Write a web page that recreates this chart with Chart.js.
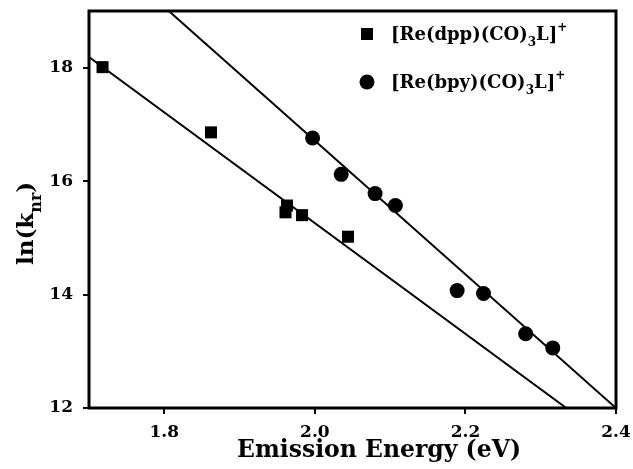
<!DOCTYPE html>
<html>
<head>
<meta charset="utf-8">
<script src="https://cdn.jsdelivr.net/npm/chart.js@4.4.1/dist/chart.umd.min.js"></script>
<style>
  body { margin: 0; background: #fff; }
  #wrap { width: 633px; height: 469px; position: relative; }
</style>
</head>
<body>
<div id="wrap"><canvas id="myChart"></canvas></div>
<script>
// data
const dppEnergy = [1.718, 1.862, 1.963, 1.961, 1.983, 2.044];
const dppLnK = [18.01, 16.86, 15.57, 15.45, 15.40, 15.02];
const bpyEnergy = [1.997, 2.035, 2.080, 2.107, 2.189, 2.224, 2.280, 2.316];
const bpyLnK = [16.76, 16.12, 15.78, 15.57, 14.07, 14.02, 13.31, 13.06];
// fitted lines (end points)
const dppFitEnergy = [1.70, 2.334];
const dppFitLnK = [18.19, 12.0];
const bpyFitEnergy = [1.806, 2.40];
const bpyFitLnK = [19.0, 12.0];
// axes
const xTicks = [1.8, 2.0, 2.2, 2.4];
const yTicks = [12, 14, 16, 18];
const legendNames = ["dpp", "bpy"];

const FONT = "'DejaVu Serif', serif";

function pts(xs, ys) {
  return xs.map((x, i) => ({ x: x, y: ys[i] }));
}

// draws text with sub/superscripts, parts: [text, shift] shift 1=sub, -1=sup
function drawRich(ctx, parts, x, y, size) {
  let cx = x;
  parts.forEach(([t, s]) => {
    const fs = s === 0 ? size : Math.round(size * 0.68);
    ctx.font = "bold " + fs + "px " + FONT;
    const dy = s === 1 ? size * 0.35 : s === -1 ? -size * 0.5 : 0;
    ctx.fillText(t, cx, y + dy);
    cx += ctx.measureText(t).width;
  });
}

const extras = {
  id: "extras",
  afterDraw(chart) {
    const ctx = chart.ctx;
    const a = chart.chartArea;
    ctx.save();
    // frame
    ctx.strokeStyle = "#000";
    ctx.lineWidth = 3;
    ctx.strokeRect(a.left, a.top, a.right - a.left, a.bottom - a.top);
    ctx.fillStyle = "#000";
    ctx.textBaseline = "alphabetic";
    ctx.textAlign = "left";
    // y title
    ctx.save();
    ctx.translate(33, 265);
    ctx.rotate(-Math.PI / 2);
    drawRich(ctx, [["ln(k", 0], ["nr", 1], [")", 0]], 0, 0, 23);
    ctx.restore();
    // x title
    ctx.font = "bold 23.5px " + FONT;
    ctx.textAlign = "center";
    ctx.fillText("Emission Energy (eV)", 379, 457);
    ctx.textAlign = "left";
    // legend
    legendNames.forEach((n, i) => {
      const my = 34 + i * 48;
      ctx.beginPath();
      if (i === 0) {
        ctx.rect(361, my - 6, 12, 12);
      } else {
        ctx.arc(367, my, 7.5, 0, Math.PI * 2);
      }
      ctx.fill();
      drawRich(ctx, [["[Re(" + n + ")(CO)", 0], ["3", 1], ["L]", 0], ["+", -1]], 391, my + 6, 18);
    });
    ctx.restore();
  }
};

const fitStyle = {
  type: "line",
  borderColor: "#000",
  borderWidth: 2,
  pointRadius: 0,
  fill: false,
  showLine: true
};

new Chart(document.getElementById("myChart").getContext("2d"), {
  type: "scatter",
  data: {
    datasets: [
      Object.assign({ data: pts(dppFitEnergy, dppFitLnK) }, fitStyle),
      Object.assign({ data: pts(bpyFitEnergy, bpyFitLnK) }, fitStyle),
      {
        data: pts(dppEnergy, dppLnK),
        pointStyle: "rect",
        pointRadius: 8.5,
        backgroundColor: "#000",
        borderColor: "#000",
        borderWidth: 0
      },
      {
        data: pts(bpyEnergy, bpyLnK),
        pointStyle: "circle",
        pointRadius: 7.5,
        backgroundColor: "#000",
        borderColor: "#000",
        borderWidth: 0
      }
    ]
  },
  options: {
    responsive: true,
    maintainAspectRatio: false,
    animation: false,
    events: [],
    layout: { padding: { top: 11, right: 17, left: 0, bottom: 0 } },
    plugins: { legend: { display: false }, tooltip: { enabled: false } },
    scales: {
      x: {
        type: "linear",
        min: 1.7,
        max: 2.4,
        afterFit: (s) => { s.height = 61; s.paddingRight = 0; s.paddingLeft = 0; },
        afterBuildTicks: (s) => { s.ticks = xTicks.map((v) => ({ value: v })); },
        border: { display: false },
        grid: { drawOnChartArea: false, color: "#000", lineWidth: 2, tickLength: 6 },
        ticks: {
          color: "#000",
          padding: 8,
          maxRotation: 0,
          font: { family: FONT, size: 17, weight: "bold" },
          callback: (v) => v.toFixed(1)
        },
        title: { display: false }
      },
      y: {
        type: "linear",
        min: 12,
        max: 19,
        afterFit: (s) => { s.width = 89; s.paddingTop = 0; s.paddingBottom = 0; },
        afterBuildTicks: (s) => { s.ticks = yTicks.map((v) => ({ value: v })); },
        border: { display: false },
        grid: { drawOnChartArea: false, color: "#000", lineWidth: 2, tickLength: 6 },
        ticks: {
          color: "#000",
          padding: 10,
          font: { family: FONT, size: 17, weight: "bold" }
        }
      }
    }
  },
  plugins: [extras]
});
</script>
</body>
</html>
